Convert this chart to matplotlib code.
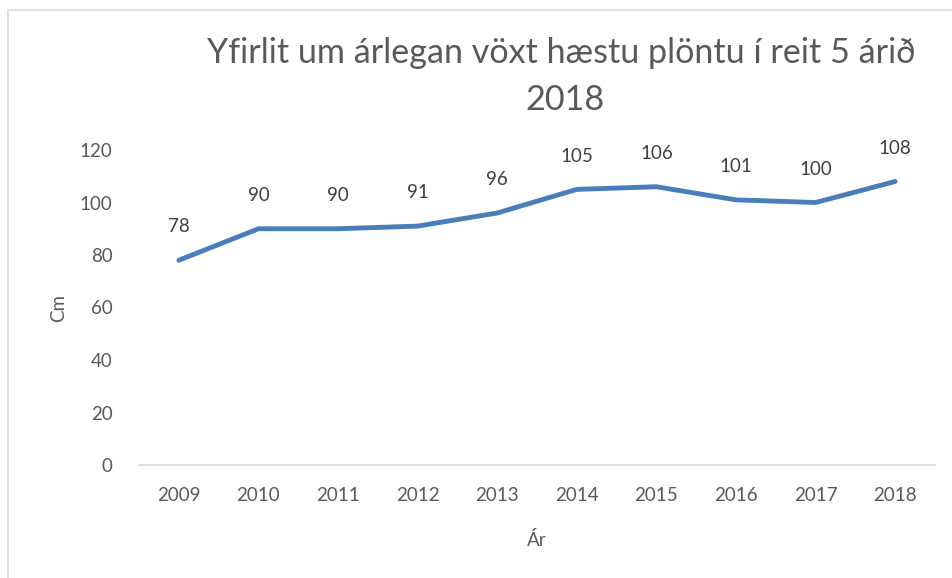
import matplotlib
matplotlib.use("Agg")
import matplotlib.pyplot as plt
from matplotlib.patches import Rectangle

years = ["2009", "2010", "2011", "2012", "2013", "2014", "2015", "2016", "2017", "2018"]
heights = [78, 90, 90, 91, 96, 105, 106, 101, 100, 108]
yticks = [0, 20, 40, 60, 80, 100, 120]

plt.rcParams['font.family'] = ['Lato', 'DejaVu Sans']
W, H = 952, 578
fig = plt.figure(figsize=(W / 100, H / 100), dpi=100)

# chart border
fig.add_artist(Rectangle((8 / W, -0.01), 1.02, 1 - 10 / H + 0.01, transform=fig.transFigure,
                         fill=False, edgecolor="#d9d9d9", linewidth=1.2))

ax = fig.add_axes([139 / W, 1 - 465 / H, (935 - 139) / W, (465 - 150) / H])
x = list(range(len(years)))
ax.plot(x, heights, color="#4A7EBB", linewidth=3.5, solid_capstyle="round", solid_joinstyle="round")
for xi, v in zip(x, heights):
    ax.annotate(str(v), (xi, v), xytext=(0, 24), textcoords="offset points",
                ha="center", va="center", fontsize=13.5, color="#404040")

ax.set_xlim(-0.5, len(years) - 0.5)
ax.set_ylim(0, 120)
ax.set_yticks(yticks)
ax.set_xticks(x)
ax.set_xticklabels(years)
ax.tick_params(axis="both", length=0, labelsize=13.5, labelcolor="#595959")
ax.tick_params(axis="y", pad=19)
ax.tick_params(axis="x", pad=16)
for s in ["top", "right", "left"]:
    ax.spines[s].set_visible(False)
ax.spines["bottom"].set_color("#d9d9d9")
ax.spines["bottom"].set_linewidth(1.2)
ax.set_facecolor("none")

ax.set_ylabel("Cm", fontsize=13.5, color="#595959", labelpad=9)
ax.set_xlabel("Ár", fontsize=13.5, color="#595959", labelpad=19)

fig.text(561 / W, 1 - 63 / H, "Yfirlit um árlegan vöxt hæstu plöntu í reit 5 árið",
         ha="center", va="baseline", fontsize=24.6, color="#595959")
fig.text(565 / W, 1 - 110 / H, "2018", ha="center", va="baseline", fontsize=24.6, color="#595959")

fig.savefig("out.png", dpi=100)
